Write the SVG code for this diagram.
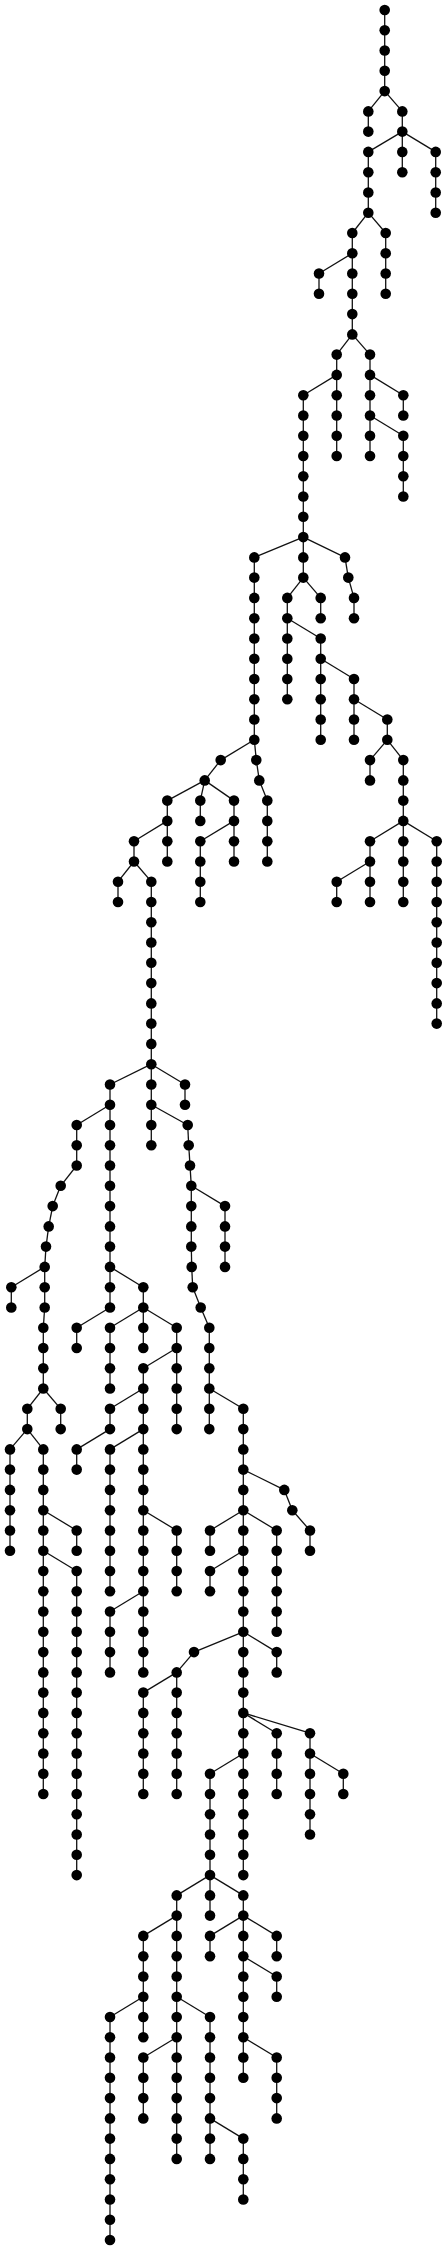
<svg xmlns="http://www.w3.org/2000/svg" width="447" height="2250" viewBox="0 0 447 2250">
<style>
#edges path{stroke:#111;stroke-width:1.3;fill:none}
#nodes circle{fill:#000}
</style>
<rect width="447" height="2250" fill="#fff"/>
<g id="edges">
<path d="M384.7 10V30.3"/><path d="M384.7 30.3V50.5"/><path d="M384.7 50.5V70.8"/><path d="M384.7 70.8V91.1"/>
<path d="M384.7 91.1L368.3 111.4"/><path d="M384.7 91.1L402.3 111.4"/>
<path d="M368.3 111.4V131.6"/><path d="M402.3 111.4V131.6"/>
<path d="M402.3 131.6L368.3 151.9"/><path d="M402.3 131.6V151.9"/><path d="M402.3 131.6L435.7 151.9"/>
<path d="M402.3 151.9V172.2"/>
<path d="M368.3 151.9V172.2"/><path d="M368.3 172.2V192.5"/><path d="M368.3 192.5V212.7"/>
<path d="M435.7 151.9V172.2"/><path d="M435.7 172.2V192.5"/><path d="M435.7 192.5V212.7"/>
<path d="M368.3 212.7L352.3 233"/><path d="M368.3 212.7L385.7 233"/>
<path d="M352.3 233V253.3"/><path d="M352.3 253.3V273.5"/><path d="M352.3 273.5V293.8"/><path d="M352.3 293.8V314.1"/><path d="M352.3 314.1V334.4"/>
<path d="M385.7 233V253.3"/><path d="M385.7 253.3V273.5"/><path d="M385.7 273.5V293.8"/>
<path d="M352.3 253.3L319 273.5"/><path d="M319 273.5V293.8"/>
<path d="M352.3 334.4L336.7 354.6"/><path d="M352.3 334.4L370 354.6"/>
<path d="M336.7 354.6V374.9"/><path d="M336.7 374.9V395.2"/><path d="M336.7 395.2V415.5"/><path d="M336.7 415.5V435.7"/><path d="M336.7 435.7V456"/>
<path d="M370 354.6V374.9"/><path d="M370 374.9V395.2"/><path d="M370 395.2V415.5"/><path d="M370 415.5V435.7"/><path d="M370 435.7V456"/>
<path d="M336.7 374.9L303.3 395.2"/><path d="M370 374.9L403.3 395.2"/><path d="M403.3 395.2V415.5"/>
<path d="M370 415.5L403.3 435.7"/>
<path d="M403.3 435.7V456"/><path d="M403.3 456V476.3"/><path d="M403.3 476.3V496.5"/>
<path d="M303.3 395.2V415.5"/><path d="M303.3 415.5V435.7"/><path d="M303.3 435.7V456"/><path d="M303.3 456V476.3"/><path d="M303.3 476.3V496.5"/><path d="M303.3 496.5V516.8"/><path d="M303.3 516.8V537.1"/><path d="M303.3 537.1V557.4"/><path d="M303.3 557.4V577.6"/>
<path d="M303.3 537.1L254.3 557.4"/><path d="M303.3 537.1L345 557.4"/>
<path d="M345 557.4L348.3 577.6"/><path d="M348.3 577.6L354 597.9"/><path d="M354 597.9V618.2"/>
<path d="M303.3 577.6L287.3 597.9"/><path d="M303.3 577.6L320.7 597.9"/><path d="M320.7 597.9V618.2"/>
<path d="M287.3 597.9V618.2"/><path d="M287.3 618.2V638.5"/><path d="M287.3 638.5V658.7"/><path d="M287.3 658.7V679"/><path d="M287.3 679V699.3"/>
<path d="M287.3 618.2L320.7 638.5"/>
<path d="M320.7 638.5V658.7"/><path d="M320.7 658.7V679"/><path d="M320.7 679V699.3"/><path d="M320.7 699.3V719.5"/><path d="M320.7 719.5V739.8"/>
<path d="M320.7 658.7L354 679"/>
<path d="M354 679V699.3"/><path d="M354 699.3V719.5"/><path d="M354 719.5V739.8"/>
<path d="M354 699.3L387.3 719.5"/><path d="M387.3 719.5V739.8"/>
<path d="M387.3 739.8L370 760.1"/><path d="M387.3 739.8L403.3 760.1"/>
<path d="M370 760.1V780.4"/>
<path d="M403.3 760.1V780.4"/><path d="M403.3 780.4V800.6"/><path d="M403.3 800.6V820.9"/><path d="M403.3 820.9V841.2"/><path d="M403.3 841.2V861.5"/><path d="M403.3 861.5V881.7"/><path d="M403.3 881.7V902"/>
<path d="M403.3 820.9L370 841.2"/><path d="M403.3 820.9L436.7 841.2"/>
<path d="M370 841.2V861.5"/><path d="M370 861.5V881.7"/><path d="M370 881.7V902"/>
<path d="M370 861.5L336.7 881.7"/><path d="M336.7 881.7V902"/>
<path d="M436.7 841.2V861.5"/><path d="M436.7 861.5V881.7"/><path d="M436.7 881.7V902"/><path d="M436.7 902V922.3"/><path d="M436.7 922.3V942.5"/><path d="M436.7 942.5V962.8"/><path d="M436.7 962.8V983.1"/><path d="M436.7 983.1V1003.4"/><path d="M436.7 1003.4V1023.6"/>
<path d="M254.3 557.4V577.6"/><path d="M254.3 577.6V597.9"/><path d="M254.3 597.9V618.2"/><path d="M254.3 618.2V638.5"/><path d="M254.3 638.5V658.7"/><path d="M254.3 658.7V679"/><path d="M254.3 679V699.3"/><path d="M254.3 699.3V719.5"/><path d="M254.3 719.5V739.8"/>
<path d="M254.3 739.8L220.7 760.1"/><path d="M254.3 739.8L256.3 760.1"/>
<path d="M256.3 760.1L259.3 780.4"/><path d="M259.3 780.4L267.3 800.6"/>
<path d="M267.3 800.6V820.9"/><path d="M267.3 820.9V841.2"/><path d="M267.3 841.2V861.5"/>
<path d="M220.7 760.1L204.7 780.4"/>
<path d="M204.7 780.4L167.3 800.6"/><path d="M204.7 780.4L200.3 800.6"/><path d="M204.7 780.4L234 800.6"/>
<path d="M200.3 800.6V820.9"/>
<path d="M167.3 800.6V820.9"/><path d="M167.3 820.9V841.2"/><path d="M167.3 841.2V861.5"/>
<path d="M167.3 820.9L134 841.2"/>
<path d="M234 800.6V820.9"/><path d="M234 820.9V841.2"/><path d="M234 841.2V861.5"/>
<path d="M234 820.9L200.3 841.2"/>
<path d="M200.3 841.2V861.5"/><path d="M200.3 861.5V881.7"/><path d="M200.3 881.7V902"/>
<path d="M134 841.2V861.5"/>
<path d="M134 861.5L118 881.7"/><path d="M134 861.5L151.3 881.7"/>
<path d="M118 881.7V902"/>
<path d="M151.3 881.7V902"/><path d="M151.3 902V922.3"/><path d="M151.3 922.3V942.5"/><path d="M151.3 942.5V962.8"/><path d="M151.3 962.8V983.1"/><path d="M151.3 983.1V1003.4"/><path d="M151.3 1003.4V1023.6"/><path d="M151.3 1023.6V1043.9"/><path d="M151.3 1043.9V1064.2"/><path d="M151.3 1064.2V1084.5"/><path d="M151.3 1084.5V1104.7"/><path d="M151.3 1104.7V1125"/><path d="M151.3 1125V1145.3"/>
<path d="M151.3 1064.2L110 1084.5"/><path d="M151.3 1064.2L185 1084.5"/>
<path d="M185 1084.5V1104.7"/>
<path d="M110 1084.5V1104.7"/><path d="M110 1104.7V1125"/><path d="M110 1125V1145.3"/><path d="M110 1145.3V1165.5"/><path d="M110 1165.5V1185.8"/><path d="M110 1185.8V1206.1"/><path d="M110 1206.1V1226.4"/><path d="M110 1226.4V1246.6"/><path d="M110 1246.6V1266.9"/><path d="M110 1266.9V1287.2"/><path d="M110 1287.2V1307.5"/>
<path d="M110 1104.7L76.7 1125"/><path d="M151.3 1104.7L187.7 1125"/>
<path d="M76.7 1125V1145.3"/><path d="M76.7 1145.3V1165.5"/>
<path d="M76.7 1165.5L60.7 1185.8"/><path d="M60.7 1185.8L52.7 1206.1"/><path d="M52.7 1206.1L48.7 1226.4"/><path d="M48.7 1226.4L46 1246.6"/><path d="M46 1246.6L44.7 1266.9"/>
<path d="M44.7 1266.9V1287.2"/><path d="M44.7 1287.2V1307.5"/>
<path d="M44.7 1266.9L11.3 1287.2"/><path d="M11.3 1287.2V1307.5"/>
<path d="M44.7 1307.5L43.3 1327.7"/>
<path d="M43.3 1327.7V1348"/><path d="M43.3 1348V1368.3"/><path d="M43.3 1368.3V1388.5"/>
<path d="M43.3 1388.5L27.3 1408.8"/><path d="M43.3 1388.5L60.7 1408.8"/>
<path d="M27.3 1408.8V1429.1"/><path d="M60.7 1408.8V1429.1"/>
<path d="M27.3 1429.1L10 1449.4"/><path d="M27.3 1429.1L43.3 1449.4"/>
<path d="M10 1449.4V1469.6"/><path d="M10 1469.6V1489.9"/><path d="M10 1489.9V1510.2"/><path d="M10 1510.2V1530.5"/><path d="M10 1530.5V1550.7"/>
<path d="M43.3 1449.4V1469.6"/><path d="M43.3 1469.6V1489.9"/><path d="M43.3 1489.9V1510.2"/><path d="M43.3 1510.2V1530.5"/><path d="M43.3 1530.5V1550.7"/><path d="M43.3 1550.7V1571"/><path d="M43.3 1571V1591.3"/><path d="M43.3 1591.3V1611.5"/><path d="M43.3 1611.5V1631.8"/><path d="M43.3 1631.8V1652.1"/><path d="M43.3 1652.1V1672.4"/><path d="M43.3 1672.4V1692.6"/><path d="M43.3 1692.6V1712.9"/><path d="M43.3 1712.9V1733.2"/><path d="M43.3 1733.2V1753.5"/><path d="M43.3 1753.5V1773.7"/><path d="M43.3 1773.7V1794"/>
<path d="M43.3 1510.2L76.7 1530.5"/><path d="M76.7 1530.5V1550.7"/>
<path d="M43.3 1550.7L76.7 1571"/>
<path d="M76.7 1571V1591.3"/><path d="M76.7 1591.3V1611.5"/><path d="M76.7 1611.5V1631.8"/><path d="M76.7 1631.8V1652.1"/><path d="M76.7 1652.1V1672.4"/><path d="M76.7 1672.4V1692.6"/><path d="M76.7 1692.6V1712.9"/><path d="M76.7 1712.9V1733.2"/><path d="M76.7 1733.2V1753.5"/><path d="M76.7 1753.5V1773.7"/><path d="M76.7 1773.7V1794"/><path d="M76.7 1794V1814.3"/><path d="M76.7 1814.3V1834.5"/><path d="M76.7 1834.5V1854.8"/><path d="M76.7 1854.8V1875.1"/>
<path d="M110 1266.9L143.3 1287.2"/><path d="M143.3 1287.2V1307.5"/>
<path d="M110 1307.5L76.7 1327.7"/><path d="M76.7 1327.7V1348"/>
<path d="M143.3 1307.5L110 1327.7"/><path d="M143.3 1307.5V1327.7"/><path d="M143.3 1307.5L176.7 1327.7"/>
<path d="M110 1327.7V1348"/><path d="M110 1348V1368.3"/><path d="M110 1368.3V1388.5"/>
<path d="M143.3 1327.7V1348"/>
<path d="M176.7 1327.7V1348"/><path d="M176.7 1348V1368.3"/><path d="M176.7 1368.3V1388.5"/><path d="M176.7 1388.5V1408.8"/><path d="M176.7 1408.8V1429.1"/>
<path d="M176.7 1348L143.3 1368.3"/>
<path d="M143.3 1368.3V1388.5"/><path d="M143.3 1388.5V1408.8"/><path d="M143.3 1408.8V1429.1"/><path d="M143.3 1429.1V1449.4"/><path d="M143.3 1449.4V1469.6"/><path d="M143.3 1469.6V1489.9"/><path d="M143.3 1489.9V1510.2"/><path d="M143.3 1510.2V1530.5"/><path d="M143.3 1530.5V1550.7"/><path d="M143.3 1550.7V1571"/><path d="M143.3 1571V1591.3"/><path d="M143.3 1591.3V1611.5"/><path d="M143.3 1611.5V1631.8"/><path d="M143.3 1631.8V1652.1"/><path d="M143.3 1652.1V1672.4"/>
<path d="M143.3 1388.5L110 1408.8"/><path d="M110 1408.8V1429.1"/>
<path d="M110 1429.1L76.7 1449.4"/><path d="M76.7 1449.4V1469.6"/>
<path d="M143.3 1429.1L110 1449.4"/>
<path d="M110 1449.4V1469.6"/><path d="M110 1469.6V1489.9"/><path d="M110 1489.9V1510.2"/><path d="M110 1510.2V1530.5"/><path d="M110 1530.5V1550.7"/><path d="M110 1550.7V1571"/><path d="M110 1571V1591.3"/>
<path d="M143.3 1510.2L176.7 1530.5"/>
<path d="M176.7 1530.5V1550.7"/><path d="M176.7 1550.7V1571"/><path d="M176.7 1571V1591.3"/>
<path d="M143.3 1591.3L110 1611.5"/>
<path d="M110 1611.5V1631.8"/><path d="M110 1631.8V1652.1"/><path d="M110 1652.1V1672.4"/>
<path d="M187.7 1125L188.7 1145.3"/><path d="M188.7 1145.3L190 1165.5"/><path d="M190 1165.5L191.3 1185.8"/>
<path d="M191.3 1185.8V1206.1"/><path d="M191.3 1206.1V1226.4"/><path d="M191.3 1226.4V1246.6"/>
<path d="M191.3 1185.8L225 1206.1"/>
<path d="M225 1206.1V1226.4"/><path d="M225 1226.4V1246.6"/><path d="M225 1246.6V1266.9"/>
<path d="M191.3 1246.6L191.7 1266.9"/><path d="M191.7 1266.9L192.7 1287.2"/><path d="M192.7 1287.2L200.7 1307.5"/><path d="M200.7 1307.5L209.3 1327.7"/>
<path d="M209.3 1327.7V1348"/><path d="M209.3 1348V1368.3"/><path d="M209.3 1368.3V1388.5"/><path d="M209.3 1388.5V1408.8"/><path d="M209.3 1408.8V1429.1"/>
<path d="M209.3 1388.5L243.3 1408.8"/>
<path d="M243.3 1408.8V1429.1"/><path d="M243.3 1429.1V1449.4"/><path d="M243.3 1449.4V1469.6"/><path d="M243.3 1469.6V1489.9"/><path d="M243.3 1489.9V1510.2"/><path d="M243.3 1510.2V1530.5"/><path d="M243.3 1530.5V1550.7"/><path d="M243.3 1550.7V1571"/><path d="M243.3 1571V1591.3"/><path d="M243.3 1591.3V1611.5"/><path d="M243.3 1611.5V1631.8"/><path d="M243.3 1631.8V1652.1"/><path d="M243.3 1652.1V1672.4"/><path d="M243.3 1672.4V1692.6"/><path d="M243.3 1692.6V1712.9"/><path d="M243.3 1712.9V1733.2"/><path d="M243.3 1733.2V1753.5"/><path d="M243.3 1753.5V1773.7"/><path d="M243.3 1773.7V1794"/><path d="M243.3 1794V1814.3"/><path d="M243.3 1814.3V1834.5"/><path d="M243.3 1834.5V1854.8"/><path d="M243.3 1854.8V1875.1"/>
<path d="M243.3 1469.6L284.3 1489.9"/><path d="M284.3 1489.9L292.3 1510.2"/><path d="M292.3 1510.2L310 1530.5"/><path d="M310 1530.5V1550.7"/>
<path d="M243.3 1510.2L210 1530.5"/><path d="M243.3 1510.2L276.7 1530.5"/>
<path d="M210 1530.5V1550.7"/>
<path d="M276.7 1530.5V1550.7"/><path d="M276.7 1550.7V1571"/><path d="M276.7 1571V1591.3"/><path d="M276.7 1591.3V1611.5"/><path d="M276.7 1611.5V1631.8"/>
<path d="M243.3 1550.7L210 1571"/><path d="M210 1571V1591.3"/>
<path d="M243.3 1631.8L194 1652.1"/><path d="M243.3 1631.8L276.7 1652.1"/><path d="M276.7 1652.1V1672.4"/>
<path d="M194 1652.1L176.7 1672.4"/>
<path d="M176.7 1672.4V1692.6"/><path d="M176.7 1692.6V1712.9"/><path d="M176.7 1712.9V1733.2"/><path d="M176.7 1733.2V1753.5"/><path d="M176.7 1753.5V1773.7"/><path d="M176.7 1773.7V1794"/>
<path d="M176.7 1672.4L143.3 1692.6"/>
<path d="M143.3 1692.6V1712.9"/><path d="M143.3 1712.9V1733.2"/><path d="M143.3 1733.2V1753.5"/><path d="M143.3 1753.5V1773.7"/><path d="M143.3 1773.7V1794"/>
<path d="M243.3 1712.9L276.7 1733.2"/><path d="M243.3 1712.9L310 1733.2"/>
<path d="M276.7 1733.2V1753.5"/><path d="M276.7 1753.5V1773.7"/><path d="M276.7 1773.7V1794"/>
<path d="M310 1733.2V1753.5"/><path d="M310 1753.5V1773.7"/><path d="M310 1773.7V1794"/><path d="M310 1794V1814.3"/><path d="M310 1814.3V1834.5"/>
<path d="M310 1753.5L343.3 1773.7"/><path d="M343.3 1773.7V1794"/>
<path d="M243.3 1753.5L210 1773.7"/>
<path d="M210 1773.7V1794"/><path d="M210 1794V1814.3"/><path d="M210 1814.3V1834.5"/><path d="M210 1834.5V1854.8"/><path d="M210 1854.8V1875.1"/><path d="M210 1875.1V1895.4"/><path d="M210 1895.4V1915.6"/>
<path d="M210 1875.1L176.7 1895.4"/><path d="M210 1875.1L243.3 1895.4"/>
<path d="M176.7 1895.4V1915.6"/><path d="M176.7 1915.6V1935.9"/><path d="M176.7 1935.9V1956.2"/><path d="M176.7 1956.2V1976.5"/><path d="M176.7 1976.5V1996.7"/><path d="M176.7 1996.7V2017"/><path d="M176.7 2017V2037.3"/><path d="M176.7 2037.3V2057.5"/><path d="M176.7 2057.5V2077.8"/><path d="M176.7 2077.8V2098.1"/><path d="M176.7 2098.1V2118.4"/><path d="M176.7 2118.4V2138.6"/><path d="M176.7 2138.6V2158.9"/>
<path d="M176.7 1915.6L143.3 1935.9"/>
<path d="M143.3 1935.9V1956.2"/><path d="M143.3 1956.2V1976.5"/><path d="M143.3 1976.5V1996.7"/><path d="M143.3 1996.7V2017"/><path d="M143.3 2017V2037.3"/>
<path d="M143.3 1996.7L110 2017"/>
<path d="M110 2017V2037.3"/><path d="M110 2037.3V2057.5"/><path d="M110 2057.5V2077.8"/><path d="M110 2077.8V2098.1"/><path d="M110 2098.1V2118.4"/><path d="M110 2118.4V2138.6"/><path d="M110 2138.6V2158.9"/><path d="M110 2158.9V2179.2"/><path d="M110 2179.2V2199.5"/><path d="M110 2199.5V2219.7"/><path d="M110 2219.7V2240"/>
<path d="M176.7 1996.7L210 2017"/>
<path d="M210 2017V2037.3"/><path d="M210 2037.3V2057.5"/><path d="M210 2057.5V2077.8"/><path d="M210 2077.8V2098.1"/><path d="M210 2098.1V2118.4"/><path d="M210 2118.4V2138.6"/><path d="M210 2138.6V2158.9"/>
<path d="M210 2118.4L243.3 2138.6"/>
<path d="M243.3 2138.6V2158.9"/><path d="M243.3 2158.9V2179.2"/><path d="M243.3 2179.2V2199.5"/>
<path d="M176.7 2037.3L143.3 2057.5"/>
<path d="M143.3 2057.5V2077.8"/><path d="M143.3 2077.8V2098.1"/><path d="M143.3 2098.1V2118.4"/>
<path d="M243.3 1895.4V1915.6"/><path d="M243.3 1915.6V1935.9"/><path d="M243.3 1935.9V1956.2"/><path d="M243.3 1956.2V1976.5"/><path d="M243.3 1976.5V1996.7"/><path d="M243.3 1996.7V2017"/><path d="M243.3 2017V2037.3"/><path d="M243.3 2037.3V2057.5"/><path d="M243.3 2057.5V2077.8"/>
<path d="M243.3 1915.6L210 1935.9"/><path d="M243.3 1915.6L276.7 1935.9"/>
<path d="M210 1935.9V1956.2"/><path d="M276.7 1935.9V1956.2"/>
<path d="M243.3 1956.2L276.7 1976.5"/><path d="M276.7 1976.5V1996.7"/>
<path d="M243.3 2037.3L276.7 2057.5"/>
<path d="M276.7 2057.5V2077.8"/><path d="M276.7 2077.8V2098.1"/><path d="M276.7 2098.1V2118.4"/>
</g>
<g id="nodes">
<g id="n1154_0"><circle cx="384.7" cy="10" r="5.3"/></g>
<g id="n1154_1"><circle cx="384.7" cy="30.3" r="5.3"/></g>
<g id="n1154_2"><circle cx="384.7" cy="50.5" r="5.3"/></g>
<g id="n1154_3"><circle cx="384.7" cy="70.8" r="5.3"/></g>
<g id="n1154_4"><circle cx="384.7" cy="91.1" r="5.3"/></g>
<g id="n1105_5"><circle cx="368.3" cy="111.4" r="5.3"/></g>
<g id="n1105_6"><circle cx="368.3" cy="131.6" r="5.3"/></g>
<g id="n1105_7"><circle cx="368.3" cy="151.9" r="5.3"/></g>
<g id="n1105_8"><circle cx="368.3" cy="172.2" r="5.3"/></g>
<g id="n1105_9"><circle cx="368.3" cy="192.5" r="5.3"/></g>
<g id="n1105_10"><circle cx="368.3" cy="212.7" r="5.3"/></g>
<g id="n1207_5"><circle cx="402.3" cy="111.4" r="5.3"/></g>
<g id="n1207_6"><circle cx="402.3" cy="131.6" r="5.3"/></g>
<g id="n1207_7"><circle cx="402.3" cy="151.9" r="5.3"/></g>
<g id="n1207_8"><circle cx="402.3" cy="172.2" r="5.3"/></g>
<g id="n1307_7"><circle cx="435.7" cy="151.9" r="5.3"/></g>
<g id="n1307_8"><circle cx="435.7" cy="172.2" r="5.3"/></g>
<g id="n1307_9"><circle cx="435.7" cy="192.5" r="5.3"/></g>
<g id="n1307_10"><circle cx="435.7" cy="212.7" r="5.3"/></g>
<g id="n1057_11"><circle cx="352.3" cy="233" r="5.3"/></g>
<g id="n1057_12"><circle cx="352.3" cy="253.3" r="5.3"/></g>
<g id="n1057_13"><circle cx="352.3" cy="273.5" r="5.3"/></g>
<g id="n1057_14"><circle cx="352.3" cy="293.8" r="5.3"/></g>
<g id="n1057_15"><circle cx="352.3" cy="314.1" r="5.3"/></g>
<g id="n1057_16"><circle cx="352.3" cy="334.4" r="5.3"/></g>
<g id="n1157_11"><circle cx="385.7" cy="233" r="5.3"/></g>
<g id="n1157_12"><circle cx="385.7" cy="253.3" r="5.3"/></g>
<g id="n1157_13"><circle cx="385.7" cy="273.5" r="5.3"/></g>
<g id="n1157_14"><circle cx="385.7" cy="293.8" r="5.3"/></g>
<g id="n957_13"><circle cx="319" cy="273.5" r="5.3"/></g>
<g id="n957_14"><circle cx="319" cy="293.8" r="5.3"/></g>
<g id="n1010_17"><circle cx="336.7" cy="354.6" r="5.3"/></g>
<g id="n1010_18"><circle cx="336.7" cy="374.9" r="5.3"/></g>
<g id="n1010_19"><circle cx="336.7" cy="395.2" r="5.3"/></g>
<g id="n1010_20"><circle cx="336.7" cy="415.5" r="5.3"/></g>
<g id="n1010_21"><circle cx="336.7" cy="435.7" r="5.3"/></g>
<g id="n1010_22"><circle cx="336.7" cy="456" r="5.3"/></g>
<g id="n1110_17"><circle cx="370" cy="354.6" r="5.3"/></g>
<g id="n1110_18"><circle cx="370" cy="374.9" r="5.3"/></g>
<g id="n1110_19"><circle cx="370" cy="395.2" r="5.3"/></g>
<g id="n1110_20"><circle cx="370" cy="415.5" r="5.3"/></g>
<g id="n1110_21"><circle cx="370" cy="435.7" r="5.3"/></g>
<g id="n1110_22"><circle cx="370" cy="456" r="5.3"/></g>
<g id="n1210_19"><circle cx="403.3" cy="395.2" r="5.3"/></g>
<g id="n1210_20"><circle cx="403.3" cy="415.5" r="5.3"/></g>
<g id="n1210_21"><circle cx="403.3" cy="435.7" r="5.3"/></g>
<g id="n1210_22"><circle cx="403.3" cy="456" r="5.3"/></g>
<g id="n1210_23"><circle cx="403.3" cy="476.3" r="5.3"/></g>
<g id="n1210_24"><circle cx="403.3" cy="496.5" r="5.3"/></g>
<g id="n910_19"><circle cx="303.3" cy="395.2" r="5.3"/></g>
<g id="n910_20"><circle cx="303.3" cy="415.5" r="5.3"/></g>
<g id="n910_21"><circle cx="303.3" cy="435.7" r="5.3"/></g>
<g id="n910_22"><circle cx="303.3" cy="456" r="5.3"/></g>
<g id="n910_23"><circle cx="303.3" cy="476.3" r="5.3"/></g>
<g id="n910_24"><circle cx="303.3" cy="496.5" r="5.3"/></g>
<g id="n910_25"><circle cx="303.3" cy="516.8" r="5.3"/></g>
<g id="n910_26"><circle cx="303.3" cy="537.1" r="5.3"/></g>
<g id="n910_27"><circle cx="303.3" cy="557.4" r="5.3"/></g>
<g id="n910_28"><circle cx="303.3" cy="577.6" r="5.3"/></g>
<g id="n763_27"><circle cx="254.3" cy="557.4" r="5.3"/></g>
<g id="n763_28"><circle cx="254.3" cy="577.6" r="5.3"/></g>
<g id="n763_29"><circle cx="254.3" cy="597.9" r="5.3"/></g>
<g id="n763_30"><circle cx="254.3" cy="618.2" r="5.3"/></g>
<g id="n763_31"><circle cx="254.3" cy="638.5" r="5.3"/></g>
<g id="n763_32"><circle cx="254.3" cy="658.7" r="5.3"/></g>
<g id="n763_33"><circle cx="254.3" cy="679" r="5.3"/></g>
<g id="n763_34"><circle cx="254.3" cy="699.3" r="5.3"/></g>
<g id="n763_35"><circle cx="254.3" cy="719.5" r="5.3"/></g>
<g id="n763_36"><circle cx="254.3" cy="739.8" r="5.3"/></g>
<g id="n1035_27"><circle cx="345" cy="557.4" r="5.3"/></g>
<g id="n1045_28"><circle cx="348.3" cy="577.6" r="5.3"/></g>
<g id="n1062_29"><circle cx="354" cy="597.9" r="5.3"/></g>
<g id="n1062_30"><circle cx="354" cy="618.2" r="5.3"/></g>
<g id="n1062_33"><circle cx="354" cy="679" r="5.3"/></g>
<g id="n1062_34"><circle cx="354" cy="699.3" r="5.3"/></g>
<g id="n1062_35"><circle cx="354" cy="719.5" r="5.3"/></g>
<g id="n1062_36"><circle cx="354" cy="739.8" r="5.3"/></g>
<g id="n862_29"><circle cx="287.3" cy="597.9" r="5.3"/></g>
<g id="n862_30"><circle cx="287.3" cy="618.2" r="5.3"/></g>
<g id="n862_31"><circle cx="287.3" cy="638.5" r="5.3"/></g>
<g id="n862_32"><circle cx="287.3" cy="658.7" r="5.3"/></g>
<g id="n862_33"><circle cx="287.3" cy="679" r="5.3"/></g>
<g id="n862_34"><circle cx="287.3" cy="699.3" r="5.3"/></g>
<g id="n962_29"><circle cx="320.7" cy="597.9" r="5.3"/></g>
<g id="n962_30"><circle cx="320.7" cy="618.2" r="5.3"/></g>
<g id="n962_31"><circle cx="320.7" cy="638.5" r="5.3"/></g>
<g id="n962_32"><circle cx="320.7" cy="658.7" r="5.3"/></g>
<g id="n962_33"><circle cx="320.7" cy="679" r="5.3"/></g>
<g id="n962_34"><circle cx="320.7" cy="699.3" r="5.3"/></g>
<g id="n962_35"><circle cx="320.7" cy="719.5" r="5.3"/></g>
<g id="n962_36"><circle cx="320.7" cy="739.8" r="5.3"/></g>
<g id="n1162_35"><circle cx="387.3" cy="719.5" r="5.3"/></g>
<g id="n1162_36"><circle cx="387.3" cy="739.8" r="5.3"/></g>
<g id="n1110_37"><circle cx="370" cy="760.1" r="5.3"/></g>
<g id="n1110_38"><circle cx="370" cy="780.4" r="5.3"/></g>
<g id="n1210_37"><circle cx="403.3" cy="760.1" r="5.3"/></g>
<g id="n1210_38"><circle cx="403.3" cy="780.4" r="5.3"/></g>
<g id="n1210_39"><circle cx="403.3" cy="800.6" r="5.3"/></g>
<g id="n1210_40"><circle cx="403.3" cy="820.9" r="5.3"/></g>
<g id="n1210_41"><circle cx="403.3" cy="841.2" r="5.3"/></g>
<g id="n1210_42"><circle cx="403.3" cy="861.5" r="5.3"/></g>
<g id="n1210_43"><circle cx="403.3" cy="881.7" r="5.3"/></g>
<g id="n1210_44"><circle cx="403.3" cy="902" r="5.3"/></g>
<g id="n1110_41"><circle cx="370" cy="841.2" r="5.3"/></g>
<g id="n1110_42"><circle cx="370" cy="861.5" r="5.3"/></g>
<g id="n1110_43"><circle cx="370" cy="881.7" r="5.3"/></g>
<g id="n1110_44"><circle cx="370" cy="902" r="5.3"/></g>
<g id="n1010_43"><circle cx="336.7" cy="881.7" r="5.3"/></g>
<g id="n1010_44"><circle cx="336.7" cy="902" r="5.3"/></g>
<g id="n1310_41"><circle cx="436.7" cy="841.2" r="5.3"/></g>
<g id="n1310_42"><circle cx="436.7" cy="861.5" r="5.3"/></g>
<g id="n1310_43"><circle cx="436.7" cy="881.7" r="5.3"/></g>
<g id="n1310_44"><circle cx="436.7" cy="902" r="5.3"/></g>
<g id="n1310_45"><circle cx="436.7" cy="922.3" r="5.3"/></g>
<g id="n1310_46"><circle cx="436.7" cy="942.5" r="5.3"/></g>
<g id="n1310_47"><circle cx="436.7" cy="962.8" r="5.3"/></g>
<g id="n1310_48"><circle cx="436.7" cy="983.1" r="5.3"/></g>
<g id="n1310_49"><circle cx="436.7" cy="1003.4" r="5.3"/></g>
<g id="n1310_50"><circle cx="436.7" cy="1023.6" r="5.3"/></g>
<g id="n662_37"><circle cx="220.7" cy="760.1" r="5.3"/></g>
<g id="n769_37"><circle cx="256.3" cy="760.1" r="5.3"/></g>
<g id="n778_38"><circle cx="259.3" cy="780.4" r="5.3"/></g>
<g id="n802_39"><circle cx="267.3" cy="800.6" r="5.3"/></g>
<g id="n802_40"><circle cx="267.3" cy="820.9" r="5.3"/></g>
<g id="n802_41"><circle cx="267.3" cy="841.2" r="5.3"/></g>
<g id="n802_42"><circle cx="267.3" cy="861.5" r="5.3"/></g>
<g id="n614_38"><circle cx="204.7" cy="780.4" r="5.3"/></g>
<g id="n502_39"><circle cx="167.3" cy="800.6" r="5.3"/></g>
<g id="n502_40"><circle cx="167.3" cy="820.9" r="5.3"/></g>
<g id="n502_41"><circle cx="167.3" cy="841.2" r="5.3"/></g>
<g id="n502_42"><circle cx="167.3" cy="861.5" r="5.3"/></g>
<g id="n601_39"><circle cx="200.3" cy="800.6" r="5.3"/></g>
<g id="n601_40"><circle cx="200.3" cy="820.9" r="5.3"/></g>
<g id="n601_41"><circle cx="200.3" cy="841.2" r="5.3"/></g>
<g id="n601_42"><circle cx="200.3" cy="861.5" r="5.3"/></g>
<g id="n601_43"><circle cx="200.3" cy="881.7" r="5.3"/></g>
<g id="n601_44"><circle cx="200.3" cy="902" r="5.3"/></g>
<g id="n702_39"><circle cx="234" cy="800.6" r="5.3"/></g>
<g id="n702_40"><circle cx="234" cy="820.9" r="5.3"/></g>
<g id="n702_41"><circle cx="234" cy="841.2" r="5.3"/></g>
<g id="n702_42"><circle cx="234" cy="861.5" r="5.3"/></g>
<g id="n402_41"><circle cx="134" cy="841.2" r="5.3"/></g>
<g id="n402_42"><circle cx="134" cy="861.5" r="5.3"/></g>
<g id="n354_43"><circle cx="118" cy="881.7" r="5.3"/></g>
<g id="n354_44"><circle cx="118" cy="902" r="5.3"/></g>
<g id="n454_43"><circle cx="151.3" cy="881.7" r="5.3"/></g>
<g id="n454_44"><circle cx="151.3" cy="902" r="5.3"/></g>
<g id="n454_45"><circle cx="151.3" cy="922.3" r="5.3"/></g>
<g id="n454_46"><circle cx="151.3" cy="942.5" r="5.3"/></g>
<g id="n454_47"><circle cx="151.3" cy="962.8" r="5.3"/></g>
<g id="n454_48"><circle cx="151.3" cy="983.1" r="5.3"/></g>
<g id="n454_49"><circle cx="151.3" cy="1003.4" r="5.3"/></g>
<g id="n454_50"><circle cx="151.3" cy="1023.6" r="5.3"/></g>
<g id="n454_51"><circle cx="151.3" cy="1043.9" r="5.3"/></g>
<g id="n454_52"><circle cx="151.3" cy="1064.2" r="5.3"/></g>
<g id="n454_53"><circle cx="151.3" cy="1084.5" r="5.3"/></g>
<g id="n454_54"><circle cx="151.3" cy="1104.7" r="5.3"/></g>
<g id="n454_55"><circle cx="151.3" cy="1125" r="5.3"/></g>
<g id="n454_56"><circle cx="151.3" cy="1145.3" r="5.3"/></g>
<g id="n555_53"><circle cx="185" cy="1084.5" r="5.3"/></g>
<g id="n555_54"><circle cx="185" cy="1104.7" r="5.3"/></g>
<g id="n330_53"><circle cx="110" cy="1084.5" r="5.3"/></g>
<g id="n330_54"><circle cx="110" cy="1104.7" r="5.3"/></g>
<g id="n330_55"><circle cx="110" cy="1125" r="5.3"/></g>
<g id="n330_56"><circle cx="110" cy="1145.3" r="5.3"/></g>
<g id="n330_57"><circle cx="110" cy="1165.5" r="5.3"/></g>
<g id="n330_58"><circle cx="110" cy="1185.8" r="5.3"/></g>
<g id="n330_59"><circle cx="110" cy="1206.1" r="5.3"/></g>
<g id="n330_60"><circle cx="110" cy="1226.4" r="5.3"/></g>
<g id="n330_61"><circle cx="110" cy="1246.6" r="5.3"/></g>
<g id="n330_62"><circle cx="110" cy="1266.9" r="5.3"/></g>
<g id="n330_63"><circle cx="110" cy="1287.2" r="5.3"/></g>
<g id="n330_64"><circle cx="110" cy="1307.5" r="5.3"/></g>
<g id="n330_65"><circle cx="110" cy="1327.7" r="5.3"/></g>
<g id="n330_66"><circle cx="110" cy="1348" r="5.3"/></g>
<g id="n330_67"><circle cx="110" cy="1368.3" r="5.3"/></g>
<g id="n330_68"><circle cx="110" cy="1388.5" r="5.3"/></g>
<g id="n330_69"><circle cx="110" cy="1408.8" r="5.3"/></g>
<g id="n330_70"><circle cx="110" cy="1429.1" r="5.3"/></g>
<g id="n330_71"><circle cx="110" cy="1449.4" r="5.3"/></g>
<g id="n330_72"><circle cx="110" cy="1469.6" r="5.3"/></g>
<g id="n330_73"><circle cx="110" cy="1489.9" r="5.3"/></g>
<g id="n330_74"><circle cx="110" cy="1510.2" r="5.3"/></g>
<g id="n330_75"><circle cx="110" cy="1530.5" r="5.3"/></g>
<g id="n330_76"><circle cx="110" cy="1550.7" r="5.3"/></g>
<g id="n330_77"><circle cx="110" cy="1571" r="5.3"/></g>
<g id="n330_78"><circle cx="110" cy="1591.3" r="5.3"/></g>
<g id="n330_79"><circle cx="110" cy="1611.5" r="5.3"/></g>
<g id="n330_80"><circle cx="110" cy="1631.8" r="5.3"/></g>
<g id="n330_81"><circle cx="110" cy="1652.1" r="5.3"/></g>
<g id="n330_82"><circle cx="110" cy="1672.4" r="5.3"/></g>
<g id="n330_99"><circle cx="110" cy="2017" r="5.3"/></g>
<g id="n330_100"><circle cx="110" cy="2037.3" r="5.3"/></g>
<g id="n330_101"><circle cx="110" cy="2057.5" r="5.3"/></g>
<g id="n330_102"><circle cx="110" cy="2077.8" r="5.3"/></g>
<g id="n330_103"><circle cx="110" cy="2098.1" r="5.3"/></g>
<g id="n330_104"><circle cx="110" cy="2118.4" r="5.3"/></g>
<g id="n330_105"><circle cx="110" cy="2138.6" r="5.3"/></g>
<g id="n330_106"><circle cx="110" cy="2158.9" r="5.3"/></g>
<g id="n330_107"><circle cx="110" cy="2179.2" r="5.3"/></g>
<g id="n330_108"><circle cx="110" cy="2199.5" r="5.3"/></g>
<g id="n330_109"><circle cx="110" cy="2219.7" r="5.3"/></g>
<g id="n330_110"><circle cx="110" cy="2240" r="5.3"/></g>
<g id="n230_55"><circle cx="76.7" cy="1125" r="5.3"/></g>
<g id="n230_56"><circle cx="76.7" cy="1145.3" r="5.3"/></g>
<g id="n230_57"><circle cx="76.7" cy="1165.5" r="5.3"/></g>
<g id="n230_65"><circle cx="76.7" cy="1327.7" r="5.3"/></g>
<g id="n230_66"><circle cx="76.7" cy="1348" r="5.3"/></g>
<g id="n230_71"><circle cx="76.7" cy="1449.4" r="5.3"/></g>
<g id="n230_72"><circle cx="76.7" cy="1469.6" r="5.3"/></g>
<g id="n230_75"><circle cx="76.7" cy="1530.5" r="5.3"/></g>
<g id="n230_76"><circle cx="76.7" cy="1550.7" r="5.3"/></g>
<g id="n230_77"><circle cx="76.7" cy="1571" r="5.3"/></g>
<g id="n230_78"><circle cx="76.7" cy="1591.3" r="5.3"/></g>
<g id="n230_79"><circle cx="76.7" cy="1611.5" r="5.3"/></g>
<g id="n230_80"><circle cx="76.7" cy="1631.8" r="5.3"/></g>
<g id="n230_81"><circle cx="76.7" cy="1652.1" r="5.3"/></g>
<g id="n230_82"><circle cx="76.7" cy="1672.4" r="5.3"/></g>
<g id="n230_83"><circle cx="76.7" cy="1692.6" r="5.3"/></g>
<g id="n230_84"><circle cx="76.7" cy="1712.9" r="5.3"/></g>
<g id="n230_85"><circle cx="76.7" cy="1733.2" r="5.3"/></g>
<g id="n230_86"><circle cx="76.7" cy="1753.5" r="5.3"/></g>
<g id="n230_87"><circle cx="76.7" cy="1773.7" r="5.3"/></g>
<g id="n230_88"><circle cx="76.7" cy="1794" r="5.3"/></g>
<g id="n230_89"><circle cx="76.7" cy="1814.3" r="5.3"/></g>
<g id="n230_90"><circle cx="76.7" cy="1834.5" r="5.3"/></g>
<g id="n230_91"><circle cx="76.7" cy="1854.8" r="5.3"/></g>
<g id="n230_92"><circle cx="76.7" cy="1875.1" r="5.3"/></g>
<g id="n182_58"><circle cx="60.7" cy="1185.8" r="5.3"/></g>
<g id="n158_59"><circle cx="52.7" cy="1206.1" r="5.3"/></g>
<g id="n146_60"><circle cx="48.7" cy="1226.4" r="5.3"/></g>
<g id="n138_61"><circle cx="46" cy="1246.6" r="5.3"/></g>
<g id="n134_62"><circle cx="44.7" cy="1266.9" r="5.3"/></g>
<g id="n134_63"><circle cx="44.7" cy="1287.2" r="5.3"/></g>
<g id="n134_64"><circle cx="44.7" cy="1307.5" r="5.3"/></g>
<g id="n34_63"><circle cx="11.3" cy="1287.2" r="5.3"/></g>
<g id="n34_64"><circle cx="11.3" cy="1307.5" r="5.3"/></g>
<g id="n130_65"><circle cx="43.3" cy="1327.7" r="5.3"/></g>
<g id="n130_66"><circle cx="43.3" cy="1348" r="5.3"/></g>
<g id="n130_67"><circle cx="43.3" cy="1368.3" r="5.3"/></g>
<g id="n130_68"><circle cx="43.3" cy="1388.5" r="5.3"/></g>
<g id="n82_69"><circle cx="27.3" cy="1408.8" r="5.3"/></g>
<g id="n82_70"><circle cx="27.3" cy="1429.1" r="5.3"/></g>
<g id="n182_69"><circle cx="60.7" cy="1408.8" r="5.3"/></g>
<g id="n182_70"><circle cx="60.7" cy="1429.1" r="5.3"/></g>
<g id="n30_71"><circle cx="10" cy="1449.4" r="5.3"/></g>
<g id="n30_72"><circle cx="10" cy="1469.6" r="5.3"/></g>
<g id="n30_73"><circle cx="10" cy="1489.9" r="5.3"/></g>
<g id="n30_74"><circle cx="10" cy="1510.2" r="5.3"/></g>
<g id="n30_75"><circle cx="10" cy="1530.5" r="5.3"/></g>
<g id="n30_76"><circle cx="10" cy="1550.7" r="5.3"/></g>
<g id="n130_71"><circle cx="43.3" cy="1449.4" r="5.3"/></g>
<g id="n130_72"><circle cx="43.3" cy="1469.6" r="5.3"/></g>
<g id="n130_73"><circle cx="43.3" cy="1489.9" r="5.3"/></g>
<g id="n130_74"><circle cx="43.3" cy="1510.2" r="5.3"/></g>
<g id="n130_75"><circle cx="43.3" cy="1530.5" r="5.3"/></g>
<g id="n130_76"><circle cx="43.3" cy="1550.7" r="5.3"/></g>
<g id="n130_77"><circle cx="43.3" cy="1571" r="5.3"/></g>
<g id="n130_78"><circle cx="43.3" cy="1591.3" r="5.3"/></g>
<g id="n130_79"><circle cx="43.3" cy="1611.5" r="5.3"/></g>
<g id="n130_80"><circle cx="43.3" cy="1631.8" r="5.3"/></g>
<g id="n130_81"><circle cx="43.3" cy="1652.1" r="5.3"/></g>
<g id="n130_82"><circle cx="43.3" cy="1672.4" r="5.3"/></g>
<g id="n130_83"><circle cx="43.3" cy="1692.6" r="5.3"/></g>
<g id="n130_84"><circle cx="43.3" cy="1712.9" r="5.3"/></g>
<g id="n130_85"><circle cx="43.3" cy="1733.2" r="5.3"/></g>
<g id="n130_86"><circle cx="43.3" cy="1753.5" r="5.3"/></g>
<g id="n130_87"><circle cx="43.3" cy="1773.7" r="5.3"/></g>
<g id="n130_88"><circle cx="43.3" cy="1794" r="5.3"/></g>
<g id="n430_63"><circle cx="143.3" cy="1287.2" r="5.3"/></g>
<g id="n430_64"><circle cx="143.3" cy="1307.5" r="5.3"/></g>
<g id="n430_65"><circle cx="143.3" cy="1327.7" r="5.3"/></g>
<g id="n430_66"><circle cx="143.3" cy="1348" r="5.3"/></g>
<g id="n430_67"><circle cx="143.3" cy="1368.3" r="5.3"/></g>
<g id="n430_68"><circle cx="143.3" cy="1388.5" r="5.3"/></g>
<g id="n430_69"><circle cx="143.3" cy="1408.8" r="5.3"/></g>
<g id="n430_70"><circle cx="143.3" cy="1429.1" r="5.3"/></g>
<g id="n430_71"><circle cx="143.3" cy="1449.4" r="5.3"/></g>
<g id="n430_72"><circle cx="143.3" cy="1469.6" r="5.3"/></g>
<g id="n430_73"><circle cx="143.3" cy="1489.9" r="5.3"/></g>
<g id="n430_74"><circle cx="143.3" cy="1510.2" r="5.3"/></g>
<g id="n430_75"><circle cx="143.3" cy="1530.5" r="5.3"/></g>
<g id="n430_76"><circle cx="143.3" cy="1550.7" r="5.3"/></g>
<g id="n430_77"><circle cx="143.3" cy="1571" r="5.3"/></g>
<g id="n430_78"><circle cx="143.3" cy="1591.3" r="5.3"/></g>
<g id="n430_79"><circle cx="143.3" cy="1611.5" r="5.3"/></g>
<g id="n430_80"><circle cx="143.3" cy="1631.8" r="5.3"/></g>
<g id="n430_81"><circle cx="143.3" cy="1652.1" r="5.3"/></g>
<g id="n430_82"><circle cx="143.3" cy="1672.4" r="5.3"/></g>
<g id="n430_83"><circle cx="143.3" cy="1692.6" r="5.3"/></g>
<g id="n430_84"><circle cx="143.3" cy="1712.9" r="5.3"/></g>
<g id="n430_85"><circle cx="143.3" cy="1733.2" r="5.3"/></g>
<g id="n430_86"><circle cx="143.3" cy="1753.5" r="5.3"/></g>
<g id="n430_87"><circle cx="143.3" cy="1773.7" r="5.3"/></g>
<g id="n430_88"><circle cx="143.3" cy="1794" r="5.3"/></g>
<g id="n430_95"><circle cx="143.3" cy="1935.9" r="5.3"/></g>
<g id="n430_96"><circle cx="143.3" cy="1956.2" r="5.3"/></g>
<g id="n430_97"><circle cx="143.3" cy="1976.5" r="5.3"/></g>
<g id="n430_98"><circle cx="143.3" cy="1996.7" r="5.3"/></g>
<g id="n430_99"><circle cx="143.3" cy="2017" r="5.3"/></g>
<g id="n430_100"><circle cx="143.3" cy="2037.3" r="5.3"/></g>
<g id="n430_101"><circle cx="143.3" cy="2057.5" r="5.3"/></g>
<g id="n430_102"><circle cx="143.3" cy="2077.8" r="5.3"/></g>
<g id="n430_103"><circle cx="143.3" cy="2098.1" r="5.3"/></g>
<g id="n430_104"><circle cx="143.3" cy="2118.4" r="5.3"/></g>
<g id="n530_65"><circle cx="176.7" cy="1327.7" r="5.3"/></g>
<g id="n530_66"><circle cx="176.7" cy="1348" r="5.3"/></g>
<g id="n530_67"><circle cx="176.7" cy="1368.3" r="5.3"/></g>
<g id="n530_68"><circle cx="176.7" cy="1388.5" r="5.3"/></g>
<g id="n530_69"><circle cx="176.7" cy="1408.8" r="5.3"/></g>
<g id="n530_70"><circle cx="176.7" cy="1429.1" r="5.3"/></g>
<g id="n530_75"><circle cx="176.7" cy="1530.5" r="5.3"/></g>
<g id="n530_76"><circle cx="176.7" cy="1550.7" r="5.3"/></g>
<g id="n530_77"><circle cx="176.7" cy="1571" r="5.3"/></g>
<g id="n530_78"><circle cx="176.7" cy="1591.3" r="5.3"/></g>
<g id="n530_82"><circle cx="176.7" cy="1672.4" r="5.3"/></g>
<g id="n530_83"><circle cx="176.7" cy="1692.6" r="5.3"/></g>
<g id="n530_84"><circle cx="176.7" cy="1712.9" r="5.3"/></g>
<g id="n530_85"><circle cx="176.7" cy="1733.2" r="5.3"/></g>
<g id="n530_86"><circle cx="176.7" cy="1753.5" r="5.3"/></g>
<g id="n530_87"><circle cx="176.7" cy="1773.7" r="5.3"/></g>
<g id="n530_88"><circle cx="176.7" cy="1794" r="5.3"/></g>
<g id="n530_93"><circle cx="176.7" cy="1895.4" r="5.3"/></g>
<g id="n530_94"><circle cx="176.7" cy="1915.6" r="5.3"/></g>
<g id="n530_95"><circle cx="176.7" cy="1935.9" r="5.3"/></g>
<g id="n530_96"><circle cx="176.7" cy="1956.2" r="5.3"/></g>
<g id="n530_97"><circle cx="176.7" cy="1976.5" r="5.3"/></g>
<g id="n530_98"><circle cx="176.7" cy="1996.7" r="5.3"/></g>
<g id="n530_99"><circle cx="176.7" cy="2017" r="5.3"/></g>
<g id="n530_100"><circle cx="176.7" cy="2037.3" r="5.3"/></g>
<g id="n530_101"><circle cx="176.7" cy="2057.5" r="5.3"/></g>
<g id="n530_102"><circle cx="176.7" cy="2077.8" r="5.3"/></g>
<g id="n530_103"><circle cx="176.7" cy="2098.1" r="5.3"/></g>
<g id="n530_104"><circle cx="176.7" cy="2118.4" r="5.3"/></g>
<g id="n530_105"><circle cx="176.7" cy="2138.6" r="5.3"/></g>
<g id="n530_106"><circle cx="176.7" cy="2158.9" r="5.3"/></g>
<g id="n563_55"><circle cx="187.7" cy="1125" r="5.3"/></g>
<g id="n566_56"><circle cx="188.7" cy="1145.3" r="5.3"/></g>
<g id="n570_57"><circle cx="190" cy="1165.5" r="5.3"/></g>
<g id="n574_58"><circle cx="191.3" cy="1185.8" r="5.3"/></g>
<g id="n574_59"><circle cx="191.3" cy="1206.1" r="5.3"/></g>
<g id="n574_60"><circle cx="191.3" cy="1226.4" r="5.3"/></g>
<g id="n574_61"><circle cx="191.3" cy="1246.6" r="5.3"/></g>
<g id="n575_62"><circle cx="191.7" cy="1266.9" r="5.3"/></g>
<g id="n578_63"><circle cx="192.7" cy="1287.2" r="5.3"/></g>
<g id="n602_64"><circle cx="200.7" cy="1307.5" r="5.3"/></g>
<g id="n628_65"><circle cx="209.3" cy="1327.7" r="5.3"/></g>
<g id="n628_66"><circle cx="209.3" cy="1348" r="5.3"/></g>
<g id="n628_67"><circle cx="209.3" cy="1368.3" r="5.3"/></g>
<g id="n628_68"><circle cx="209.3" cy="1388.5" r="5.3"/></g>
<g id="n628_69"><circle cx="209.3" cy="1408.8" r="5.3"/></g>
<g id="n628_70"><circle cx="209.3" cy="1429.1" r="5.3"/></g>
<g id="n675_59"><circle cx="225" cy="1206.1" r="5.3"/></g>
<g id="n675_60"><circle cx="225" cy="1226.4" r="5.3"/></g>
<g id="n675_61"><circle cx="225" cy="1246.6" r="5.3"/></g>
<g id="n675_62"><circle cx="225" cy="1266.9" r="5.3"/></g>
<g id="n730_69"><circle cx="243.3" cy="1408.8" r="5.3"/></g>
<g id="n730_70"><circle cx="243.3" cy="1429.1" r="5.3"/></g>
<g id="n730_71"><circle cx="243.3" cy="1449.4" r="5.3"/></g>
<g id="n730_72"><circle cx="243.3" cy="1469.6" r="5.3"/></g>
<g id="n730_73"><circle cx="243.3" cy="1489.9" r="5.3"/></g>
<g id="n730_74"><circle cx="243.3" cy="1510.2" r="5.3"/></g>
<g id="n730_75"><circle cx="243.3" cy="1530.5" r="5.3"/></g>
<g id="n730_76"><circle cx="243.3" cy="1550.7" r="5.3"/></g>
<g id="n730_77"><circle cx="243.3" cy="1571" r="5.3"/></g>
<g id="n730_78"><circle cx="243.3" cy="1591.3" r="5.3"/></g>
<g id="n730_79"><circle cx="243.3" cy="1611.5" r="5.3"/></g>
<g id="n730_80"><circle cx="243.3" cy="1631.8" r="5.3"/></g>
<g id="n730_81"><circle cx="243.3" cy="1652.1" r="5.3"/></g>
<g id="n730_82"><circle cx="243.3" cy="1672.4" r="5.3"/></g>
<g id="n730_83"><circle cx="243.3" cy="1692.6" r="5.3"/></g>
<g id="n730_84"><circle cx="243.3" cy="1712.9" r="5.3"/></g>
<g id="n730_85"><circle cx="243.3" cy="1733.2" r="5.3"/></g>
<g id="n730_86"><circle cx="243.3" cy="1753.5" r="5.3"/></g>
<g id="n730_87"><circle cx="243.3" cy="1773.7" r="5.3"/></g>
<g id="n730_88"><circle cx="243.3" cy="1794" r="5.3"/></g>
<g id="n730_89"><circle cx="243.3" cy="1814.3" r="5.3"/></g>
<g id="n730_90"><circle cx="243.3" cy="1834.5" r="5.3"/></g>
<g id="n730_91"><circle cx="243.3" cy="1854.8" r="5.3"/></g>
<g id="n730_92"><circle cx="243.3" cy="1875.1" r="5.3"/></g>
<g id="n730_93"><circle cx="243.3" cy="1895.4" r="5.3"/></g>
<g id="n730_94"><circle cx="243.3" cy="1915.6" r="5.3"/></g>
<g id="n730_95"><circle cx="243.3" cy="1935.9" r="5.3"/></g>
<g id="n730_96"><circle cx="243.3" cy="1956.2" r="5.3"/></g>
<g id="n730_97"><circle cx="243.3" cy="1976.5" r="5.3"/></g>
<g id="n730_98"><circle cx="243.3" cy="1996.7" r="5.3"/></g>
<g id="n730_99"><circle cx="243.3" cy="2017" r="5.3"/></g>
<g id="n730_100"><circle cx="243.3" cy="2037.3" r="5.3"/></g>
<g id="n730_101"><circle cx="243.3" cy="2057.5" r="5.3"/></g>
<g id="n730_102"><circle cx="243.3" cy="2077.8" r="5.3"/></g>
<g id="n730_105"><circle cx="243.3" cy="2138.6" r="5.3"/></g>
<g id="n730_106"><circle cx="243.3" cy="2158.9" r="5.3"/></g>
<g id="n730_107"><circle cx="243.3" cy="2179.2" r="5.3"/></g>
<g id="n730_108"><circle cx="243.3" cy="2199.5" r="5.3"/></g>
<g id="n853_73"><circle cx="284.3" cy="1489.9" r="5.3"/></g>
<g id="n877_74"><circle cx="292.3" cy="1510.2" r="5.3"/></g>
<g id="n930_75"><circle cx="310" cy="1530.5" r="5.3"/></g>
<g id="n930_76"><circle cx="310" cy="1550.7" r="5.3"/></g>
<g id="n930_85"><circle cx="310" cy="1733.2" r="5.3"/></g>
<g id="n930_86"><circle cx="310" cy="1753.5" r="5.3"/></g>
<g id="n930_87"><circle cx="310" cy="1773.7" r="5.3"/></g>
<g id="n930_88"><circle cx="310" cy="1794" r="5.3"/></g>
<g id="n930_89"><circle cx="310" cy="1814.3" r="5.3"/></g>
<g id="n930_90"><circle cx="310" cy="1834.5" r="5.3"/></g>
<g id="n630_75"><circle cx="210" cy="1530.5" r="5.3"/></g>
<g id="n630_76"><circle cx="210" cy="1550.7" r="5.3"/></g>
<g id="n630_77"><circle cx="210" cy="1571" r="5.3"/></g>
<g id="n630_78"><circle cx="210" cy="1591.3" r="5.3"/></g>
<g id="n630_87"><circle cx="210" cy="1773.7" r="5.3"/></g>
<g id="n630_88"><circle cx="210" cy="1794" r="5.3"/></g>
<g id="n630_89"><circle cx="210" cy="1814.3" r="5.3"/></g>
<g id="n630_90"><circle cx="210" cy="1834.5" r="5.3"/></g>
<g id="n630_91"><circle cx="210" cy="1854.8" r="5.3"/></g>
<g id="n630_92"><circle cx="210" cy="1875.1" r="5.3"/></g>
<g id="n630_93"><circle cx="210" cy="1895.4" r="5.3"/></g>
<g id="n630_94"><circle cx="210" cy="1915.6" r="5.3"/></g>
<g id="n630_95"><circle cx="210" cy="1935.9" r="5.3"/></g>
<g id="n630_96"><circle cx="210" cy="1956.2" r="5.3"/></g>
<g id="n630_99"><circle cx="210" cy="2017" r="5.3"/></g>
<g id="n630_100"><circle cx="210" cy="2037.3" r="5.3"/></g>
<g id="n630_101"><circle cx="210" cy="2057.5" r="5.3"/></g>
<g id="n630_102"><circle cx="210" cy="2077.8" r="5.3"/></g>
<g id="n630_103"><circle cx="210" cy="2098.1" r="5.3"/></g>
<g id="n630_104"><circle cx="210" cy="2118.4" r="5.3"/></g>
<g id="n630_105"><circle cx="210" cy="2138.6" r="5.3"/></g>
<g id="n630_106"><circle cx="210" cy="2158.9" r="5.3"/></g>
<g id="n830_75"><circle cx="276.7" cy="1530.5" r="5.3"/></g>
<g id="n830_76"><circle cx="276.7" cy="1550.7" r="5.3"/></g>
<g id="n830_77"><circle cx="276.7" cy="1571" r="5.3"/></g>
<g id="n830_78"><circle cx="276.7" cy="1591.3" r="5.3"/></g>
<g id="n830_79"><circle cx="276.7" cy="1611.5" r="5.3"/></g>
<g id="n830_80"><circle cx="276.7" cy="1631.8" r="5.3"/></g>
<g id="n830_81"><circle cx="276.7" cy="1652.1" r="5.3"/></g>
<g id="n830_82"><circle cx="276.7" cy="1672.4" r="5.3"/></g>
<g id="n830_85"><circle cx="276.7" cy="1733.2" r="5.3"/></g>
<g id="n830_86"><circle cx="276.7" cy="1753.5" r="5.3"/></g>
<g id="n830_87"><circle cx="276.7" cy="1773.7" r="5.3"/></g>
<g id="n830_88"><circle cx="276.7" cy="1794" r="5.3"/></g>
<g id="n830_95"><circle cx="276.7" cy="1935.9" r="5.3"/></g>
<g id="n830_96"><circle cx="276.7" cy="1956.2" r="5.3"/></g>
<g id="n830_97"><circle cx="276.7" cy="1976.5" r="5.3"/></g>
<g id="n830_98"><circle cx="276.7" cy="1996.7" r="5.3"/></g>
<g id="n830_101"><circle cx="276.7" cy="2057.5" r="5.3"/></g>
<g id="n830_102"><circle cx="276.7" cy="2077.8" r="5.3"/></g>
<g id="n830_103"><circle cx="276.7" cy="2098.1" r="5.3"/></g>
<g id="n830_104"><circle cx="276.7" cy="2118.4" r="5.3"/></g>
<g id="n582_81"><circle cx="194" cy="1652.1" r="5.3"/></g>
<g id="n1030_87"><circle cx="343.3" cy="1773.7" r="5.3"/></g>
<g id="n1030_88"><circle cx="343.3" cy="1794" r="5.3"/></g>
</g>
</svg>
